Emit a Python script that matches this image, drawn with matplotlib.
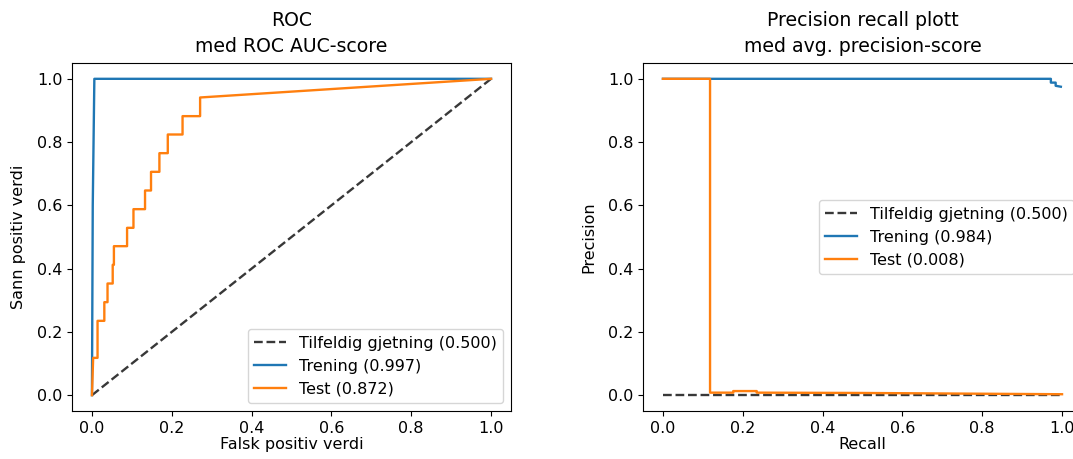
import matplotlib
matplotlib.use("Agg")
import matplotlib.pyplot as plt

# ROC curve data
roc_chance = [0.0, 1.0]
fpr_train = [0.0, 0.002, 0.006, 1.0]
tpr_train = [0.0, 0.6, 1.0, 1.0]
fpr_test = [0.0, 0.003, 0.014, 0.014, 0.031, 0.031, 0.039, 0.039, 0.052, 0.052,
            0.055, 0.055, 0.088, 0.088, 0.104, 0.104, 0.133, 0.133, 0.148, 0.148,
            0.169, 0.169, 0.190, 0.190, 0.227, 0.227, 0.271, 0.271, 1.0]
tpr_test = [0.0, 0.118, 0.118, 0.235, 0.235, 0.294, 0.294, 0.353, 0.353, 0.412,
            0.412, 0.471, 0.471, 0.529, 0.529, 0.588, 0.588, 0.647, 0.647, 0.706,
            0.706, 0.765, 0.765, 0.824, 0.824, 0.882, 0.882, 0.941, 1.0]

# Precision-recall data
pr_chance_recall = [0.0, 1.0]
pr_chance_precision = [0.002, 0.002]
rec_train = [0.0, 0.972, 0.972, 0.984, 0.984, 0.997]
prec_train = [1.0, 1.0, 0.988, 0.988, 0.978, 0.975]
rec_test = [0.0, 0.118, 0.118, 0.176, 0.176, 0.235, 0.235, 0.5, 0.75, 1.0]
prec_test = [1.0, 1.0, 0.008, 0.008, 0.013, 0.013, 0.008, 0.007, 0.005, 0.003]

roc_scores = {"chance": 0.500, "train": 0.997, "test": 0.872}
ap_scores = {"chance": 0.500, "train": 0.984, "test": 0.008}

plt.rcParams.update({
    "font.size": 11.5,
    "axes.titlesize": 13.6,
    "axes.labelsize": 11.5,
    "xtick.labelsize": 11.5,
    "ytick.labelsize": 11.5,
    "legend.fontsize": 11.5,
    "lines.linewidth": 1.7,
})

W, H = 1073, 459
fig = plt.figure(figsize=(W / 100, H / 100), dpi=100)
ax1 = fig.add_axes([72 / W, 48 / H, 439 / W, 348 / H])
ax2 = fig.add_axes([643 / W, 48 / H, 439 / W, 348 / H])

dash_kw = dict(color="#222222", linestyle="--", alpha=0.9)
title_kw = dict(linespacing=1.45, pad=8)

ax1.plot(roc_chance, roc_chance, label=f"Tilfeldig gjetning ({roc_scores['chance']:.3f})", **dash_kw)
ax1.plot(fpr_train, tpr_train, color="tab:blue", label=f"Trening ({roc_scores['train']:.3f})")
ax1.plot(fpr_test, tpr_test, color="tab:orange", label=f"Test ({roc_scores['test']:.3f})")
ax1.set_title("ROC\nmed ROC AUC-score", **title_kw)
ax1.set_xlabel("Falsk positiv verdi", labelpad=1)
ax1.set_ylabel("Sann positiv verdi", labelpad=8)
ax1.legend(loc="lower right")

ax2.plot(pr_chance_recall, pr_chance_precision, label=f"Tilfeldig gjetning ({ap_scores['chance']:.3f})", **dash_kw)
ax2.plot(rec_train, prec_train, color="tab:blue", label=f"Trening ({ap_scores['train']:.3f})")
ax2.plot(rec_test, prec_test, color="tab:orange", label=f"Test ({ap_scores['test']:.3f})")
ax2.set_title("Precision recall plott\nmed avg. precision-score", **title_kw)
ax2.set_xlabel("Recall", labelpad=1)
ax2.set_ylabel("Precision", labelpad=8)
ax2.legend(loc="center right")

for ax in (ax1, ax2):
    ax.set_xlim(-0.05, 1.05)
    ax.set_ylim(-0.05, 1.05)

fig.savefig("out.png", dpi=100)
